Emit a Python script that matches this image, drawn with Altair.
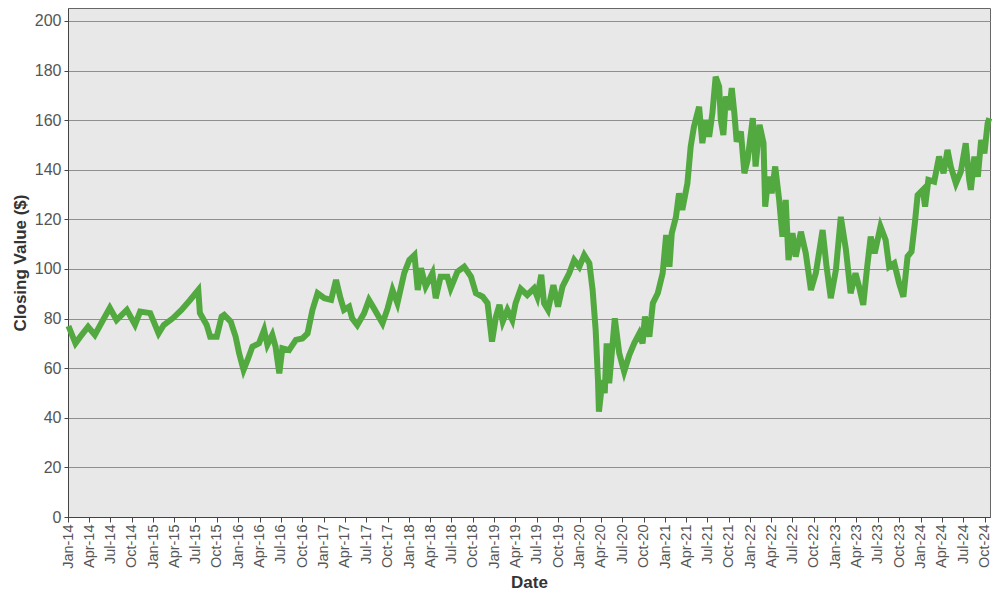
import altair as alt
import pandas as pd

dates = [
    "2014-01-03", "2014-02-02", "2014-02-23", "2014-03-28", "2014-04-26", "2014-05-24",
    "2014-06-29", "2014-07-28", "2014-09-10", "2014-10-15", "2014-11-06", "2014-12-19",
    "2015-01-24", "2015-02-15", "2015-03-27", "2015-05-02", "2015-06-08", "2015-07-13",
    "2015-07-20", "2015-08-18", "2015-09-02", "2015-09-30", "2015-10-21", "2015-11-01",
    "2015-11-29", "2015-12-20", "2016-01-04", "2016-01-23", "2016-02-09", "2016-03-01",
    "2016-03-29", "2016-04-20", "2016-05-04", "2016-05-25", "2016-06-08", "2016-06-24",
    "2016-07-07", "2016-08-05", "2016-09-03", "2016-10-01", "2016-10-23", "2016-11-13",
    "2016-12-05", "2017-01-03", "2017-02-01", "2017-02-22", "2017-03-13", "2017-03-28",
    "2017-04-19", "2017-05-02", "2017-05-24", "2017-06-22", "2017-07-13", "2017-08-04",
    "2017-08-19", "2017-09-09", "2017-10-01", "2017-10-22", "2017-11-12", "2017-12-11",
    "2018-01-02", "2018-01-24", "2018-02-07", "2018-02-21", "2018-03-13", "2018-04-11",
    "2018-04-25", "2018-05-16", "2018-06-14", "2018-06-28", "2018-07-27", "2018-08-25",
    "2018-09-23", "2018-10-14", "2018-11-12", "2018-12-03", "2018-12-22", "2019-01-08",
    "2019-01-23", "2019-02-06", "2019-02-26", "2019-03-19", "2019-04-02", "2019-04-24",
    "2019-05-22", "2019-06-20", "2019-07-04", "2019-07-21", "2019-08-02", "2019-08-19",
    "2019-09-11", "2019-10-01", "2019-10-20", "2019-11-18", "2019-12-09", "2019-12-31",
    "2020-01-21", "2020-02-12", "2020-02-26", "2020-03-10", "2020-03-20", "2020-03-24",
    "2020-04-08", "2020-04-18", "2020-04-26", "2020-05-07", "2020-05-31", "2020-06-19",
    "2020-07-10", "2020-08-01", "2020-08-22", "2020-09-13", "2020-09-27", "2020-10-07",
    "2020-10-26", "2020-11-10", "2020-12-01", "2020-12-22", "2021-01-06", "2021-01-20",
    "2021-01-30", "2021-02-17", "2021-03-02", "2021-03-16", "2021-04-07", "2021-04-21",
    "2021-05-05", "2021-05-27", "2021-06-10", "2021-06-24", "2021-07-09", "2021-07-23",
    "2021-08-06", "2021-08-21", "2021-08-28", "2021-09-08", "2021-09-19", "2021-10-03",
    "2021-10-14", "2021-10-25", "2021-11-04", "2021-11-22", "2021-12-07", "2021-12-21",
    "2022-01-12", "2022-01-24", "2022-02-10", "2022-02-27", "2022-03-06", "2022-03-20",
    "2022-04-03", "2022-04-18", "2022-05-05", "2022-05-19", "2022-06-02", "2022-06-14",
    "2022-07-01", "2022-07-15", "2022-08-06", "2022-08-27", "2022-09-18", "2022-10-09",
    "2022-11-07", "2022-11-24", "2022-12-12", "2023-01-03", "2023-01-24", "2023-02-15",
    "2023-03-07", "2023-03-28", "2023-04-12", "2023-04-30", "2023-05-17", "2023-06-01",
    "2023-06-18", "2023-07-13", "2023-08-04", "2023-08-19", "2023-09-10", "2023-10-01",
    "2023-10-19", "2023-11-06", "2023-11-23", "2023-12-07", "2023-12-19", "2024-01-10",
    "2024-01-20", "2024-02-03", "2024-02-28", "2024-03-20", "2024-04-08", "2024-04-25",
    "2024-05-09", "2024-05-31", "2024-06-21", "2024-07-12", "2024-07-27", "2024-08-03",
    "2024-08-18", "2024-09-02", "2024-09-16", "2024-09-30", "2024-10-14", "2024-10-21",
]

closing = [
    77.0, 70.0, 72.7, 76.7, 73.4, 78.2,
    84.3, 79.4, 83.5, 77.5, 82.8, 82.2,
    74.0, 77.4, 80.2, 83.5, 87.5, 91.5,
    82.2, 77.4, 72.7, 72.7, 80.8, 81.5,
    78.8, 72.7, 66.0, 59.3, 63.3, 68.7,
    70.0, 75.4, 69.4, 73.4, 68.7, 57.9,
    68.0, 67.3, 71.4, 72.0, 74.0, 83.5,
    90.2, 88.2, 87.5, 95.6, 88.2, 83.5,
    84.8, 80.1, 77.4, 82.1, 87.5, 84.0,
    81.5, 78.1, 84.1, 91.5, 86.2, 98.3,
    103.6, 105.6, 91.5, 100.3, 92.9, 98.3,
    88.2, 96.9, 96.9, 92.2, 98.9, 100.9,
    96.9, 90.2, 88.8, 86.2, 70.7, 80.8,
    85.5, 78.8, 83.5, 79.4, 86.2, 92.0,
    89.5, 92.2, 88.8, 97.6, 86.2, 83.5,
    93.5, 84.8, 92.9, 98.3, 103.6, 100.9,
    105.6, 102.3, 91.5, 75.4, 55.2, 42.5,
    55.2, 49.9, 70.0, 53.9, 80.1, 66.0,
    58.6, 65.3, 70.0, 74.0, 70.0, 80.8,
    72.7, 86.2, 90.2, 98.3, 113.7, 100.9,
    114.4, 121.0, 130.5, 123.8, 134.5, 149.3,
    157.4, 165.4, 150.7, 160.1, 153.3, 162.8,
    177.5, 173.5, 160.1, 154.0, 169.5, 164.1,
    172.9, 162.8, 151.3, 155.4, 138.6, 144.0,
    160.8, 141.3, 158.1, 150.7, 125.1, 137.2,
    130.5, 141.3, 127.8, 113.0, 127.8, 103.6,
    114.4, 105.0, 115.0, 106.3, 91.5, 98.3,
    115.7, 100.9, 88.2, 99.6, 121.0, 107.7,
    90.2, 98.3, 92.9, 85.5, 100.9, 113.0,
    106.3, 117.1, 111.7, 100.9, 102.3, 94.2,
    88.8, 105.0, 107.0, 118.4, 129.8, 131.9,
    125.1, 135.9, 135.2, 145.3, 138.6, 148.0,
    141.3, 134.5, 139.2, 150.7, 135.9, 131.9,
    145.3, 137.2, 152.0, 146.6, 158.8, 160.8,
]

y_ticks = [0, 20, 40, 60, 80, 100, 120, 140, 160, 180, 200]
x_tick_dates = pd.date_range("2014-01-01", "2024-10-01", freq="QS")
x_ticks = [alt.DateTime(year=d.year, month=d.month, date=1, utc=True) for d in x_tick_dates]

df = pd.DataFrame({"Date": dates, "Close": closing})

chart = alt.Chart(df).mark_line(
    color="#52a93f", strokeWidth=6
).encode(
    x=alt.X(
        "Date:T",
        title="Date",
        scale=alt.Scale(
            type="utc",
            domain=[alt.DateTime(year=2014, month=1, date=1, utc=True),
                    alt.DateTime(year=2024, month=10, date=24, utc=True)],
            nice=False,
        ),
        axis=alt.Axis(
            values=x_ticks,
            labelExpr="utcFormat(datum.value, '%b-%y')",
            labelAngle=-90,
            grid=False, tickSize=5, labelPadding=2, labelFontSize=14.5,
            labelColor="#555555", titlePadding=6, labelOverlap=False,
        ),
    ),
    y=alt.Y(
        "Close:Q",
        title="Closing Value ($)",
        scale=alt.Scale(domain=[0, 205.2], nice=False, zero=True),
        axis=alt.Axis(
            values=y_ticks, grid=True, gridColor="#8f8f8f", gridWidth=1,
            tickSize=4, labelPadding=3, labelFontSize=16, labelColor="#555555",
            titlePadding=5,
        ),
    ),
).properties(
    width=922,
    height=509,
    autosize=alt.AutoSizeParams(type="none"),
    padding={"left": 60, "top": 0, "right": 2, "bottom": 82},
).configure_view(
    fill="#e8e8e8", stroke="#666666", strokeWidth=1,
).configure_axis(
    labelFont="Liberation Sans", titleFont="Liberation Sans",
    titleFontSize=17, titleFontWeight="bold", titleColor="#333333",
    domainColor="#444444", tickColor="#444444",
)

chart.save("out.html", embed_options={"renderer": "svg", "actions": False})
